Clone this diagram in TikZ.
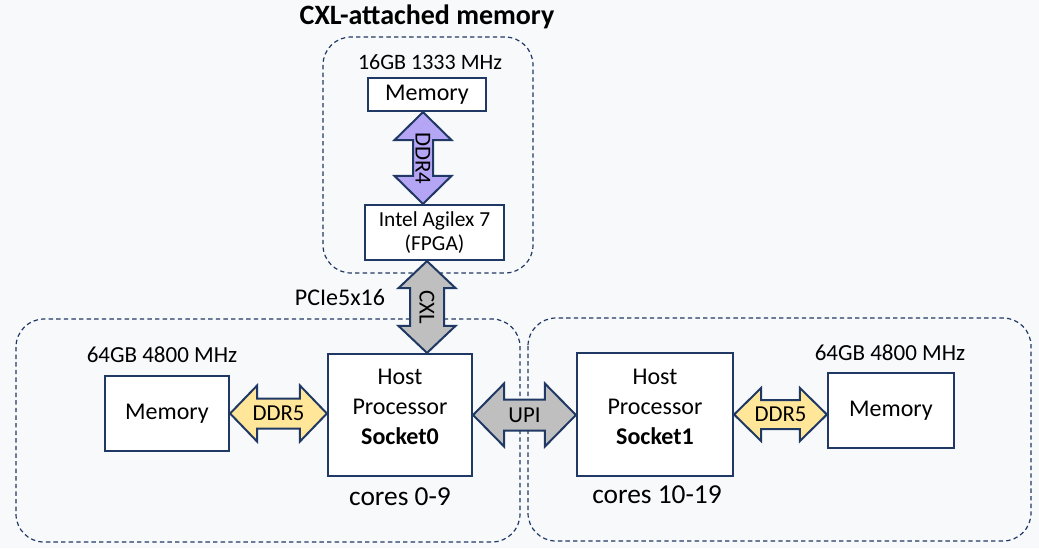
\documentclass[tikz,border=0pt]{standalone}
\usepackage{fontspec}
\setmainfont{Carlito}
\usetikzlibrary{calc}
\definecolor{navy}{HTML}{203864}
\definecolor{bgray}{HTML}{F8F9FA}
\definecolor{ddrfour}{HTML}{B5A6F5}
\definecolor{ddrfive}{HTML}{FFE699}
\definecolor{linkgray}{HTML}{BFBFBF}
\tikzset{
	unitbox/.style={draw=navy, line width=1.1pt, fill=white, align=center, inner sep=0pt},
	groupbox/.style={draw=navy, line width=0.6pt, dash pattern=on 2.2pt off 1.6pt, rounded corners=14pt},
	arrowlbl/.style={font=\fontsize{11.4}{13}\selectfont, inner sep=0pt},
	fatarrow/.style={draw=navy, line width=1pt, line join=miter},
	socktext/.style={align=center, inner sep=0pt, font=\fontsize{12}{15}\selectfont},
}
% double arrows: (from)(to)(shaft half:head half:head length){label}
\def\hdarrow[#1](#2)(#3)(#4:#5:#6)#7{\draw[fatarrow,#1] let \p1=(#2), \p2=(#3) in (\x1,\y1) -- (\x1+#6,\y1+#5) -- (\x1+#6,\y1+#4) -- (\x2-#6,\y1+#4) -- (\x2-#6,\y1+#5) -- (\x2,\y1) -- (\x2-#6,\y1-#5) -- (\x2-#6,\y1-#4) -- (\x1+#6,\y1-#4) -- (\x1+#6,\y1-#5) -- cycle node[arrowlbl] at ({0.5*\x1+0.5*\x2},\y1) {#7};}
\def\vdarrow[#1](#2)(#3)(#4:#5:#6)#7{\draw[fatarrow,#1] let \p1=(#2), \p2=(#3) in (\x1,\y1) -- (\x1+#5,\y1-#6) -- (\x1+#4,\y1-#6) -- (\x1+#4,\y2+#6) -- (\x1+#5,\y2+#6) -- (\x1,\y2) -- (\x1-#5,\y2+#6) -- (\x1-#4,\y2+#6) -- (\x1-#4,\y1-#6) -- (\x1-#5,\y1-#6) -- cycle node[arrowlbl,rotate=-90] at (\x1,{0.5*\y1+0.5*\y2}) {#7};}

\begin{document}
\begin{tikzpicture}[x=0.5pt, y=-0.5pt]
	%%%%% START %%%%%
	
	\fill[bgray] (0,0) rectangle (1039,548);
	\useasboundingbox (0,0) rectangle (1039,548);
	
	% groups
	\draw[groupbox] (323,37) rectangle (533,273);
	\draw[groupbox] (16,319) rectangle (520,542);
	\draw[groupbox] (528,318) rectangle (1031,541);
	
	\node[font=\fontsize{14}{16}\selectfont\bfseries] (title) at (427,17) {CXL-attached memory};
	
	% CXL device
	\node[font=\fontsize{11}{13}\selectfont] (cxlsize) at (430,62) {16GB 1333 MHz};
	\node[unitbox, minimum width=59pt, minimum height=16.5pt, font=\fontsize{12}{14}\selectfont] (memc) at (427,94.5) {Memory};
	\node[unitbox, minimum width=69.5pt, minimum height=27.5pt, font=\fontsize{10.7}{12}\selectfont] (fpga) at (434.5,232.5) {Intel Agilex 7\\(FPGA)};
	\node[font=\fontsize{12}{14}\selectfont] (pcie) at (340,297) {PCIe5x16};
	
	% socket 0
	\node[font=\fontsize{11.5}{13}\selectfont] (size0) at (162,355) {64GB 4800 MHz};
	\node[unitbox, minimum width=62pt, minimum height=37.5pt, font=\fontsize{12}{14}\selectfont] (mem0) at (167,413.5) {Memory};
	\node[unitbox, minimum width=72pt, minimum height=61pt] (sock0) at (400,415) {};
	\node[socktext] (sock0txt) at ([yshift=4pt]sock0.center) {Host\\Processor\\\textbf{Socket0}};
	\node[font=\fontsize{13.7}{16}\selectfont] (cores0) at (400,497) {cores 0-9};
	
	% socket 1
	\node[font=\fontsize{11.5}{13}\selectfont] (size1) at (890,353) {64GB 4800 MHz};
	\node[unitbox, minimum width=63pt, minimum height=37.5pt, font=\fontsize{12}{14}\selectfont] (mem1) at (891,410.5) {Memory};
	\node[unitbox, minimum width=78pt, minimum height=61.5pt] (sock1) at (655,414.5) {};
	\node[socktext] (sock1txt) at ([yshift=4pt]sock1.center) {Host\\Processor\\\textbf{Socket1}};
	\node[font=\fontsize{13.7}{16}\selectfont] (cores1) at (657,495) {cores 10-19};
	
	% links
	\vdarrow[fill=ddrfour]([xshift=-2pt]memc.south)(fpga.north)(5pt:14.25pt:14pt){DDR4}
	\vdarrow[fill=linkgray]([xshift=-3.75pt]fpga.south)(sock0.north)(8.5pt:14.25pt:13.5pt){CXL}
	\hdarrow[fill=ddrfive](mem0.east)(sock0.west)(7.5pt:14pt:13.5pt){DDR5}
	\hdarrow[fill=linkgray](sock0.east)(sock1.west)(7.75pt:15.75pt:15.5pt){UPI}
	\hdarrow[fill=ddrfive](sock1.east)(mem1.west)(7.25pt:13.25pt:13.5pt){DDR5}
	
	%%%%% END %%%%%
\end{tikzpicture}
\end{document}
